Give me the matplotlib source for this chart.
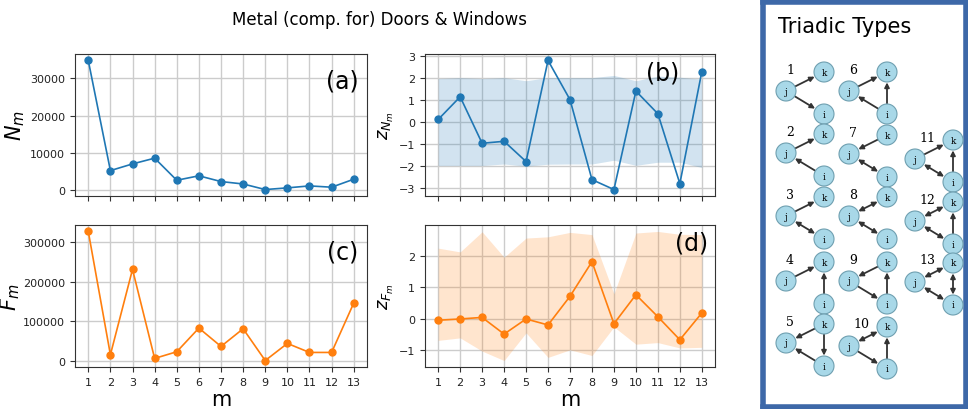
import numpy as np
import matplotlib
matplotlib.use('Agg')
from matplotlib import pyplot as plt
from matplotlib.patches import Circle

# motif index
m = list(range(1, 14))

# (a) observed counts N_m
N_m = [34850, 5200, 7000, 8550, 2600, 3800, 2250, 1600, 100, 550, 1080, 730, 2880]
# (b) z-scores of N_m and the +-2 sigma band from the null model
z_N = [0.1, 1.13, -0.98, -0.89, -1.81, 2.78, 1.0, -2.63, -3.08, 1.39, 0.36, -2.81, 2.27]
z_N_hi = [1.96, 2.0, 1.96, 2.0, 1.86, 2.0, 2.0, 2.0, 2.1, 1.86, 2.07, 2.02, 1.93]
z_N_lo = [-1.99, -1.99, -1.99, -1.92, -2.02, -1.93, -1.92, -1.92, -1.75, -1.98, -1.84, -1.84, -2.08]
# (c) fluxes F_m
F_m = [327000, 15200, 231000, 5900, 22750, 82600, 36200, 80900, 500, 43800, 21000, 21000, 145800]
# (d) z-scores of F_m and band
z_F = [-0.04, 0.0, 0.05, -0.48, 0.0, -0.19, 0.72, 1.82, -0.15, 0.77, 0.07, -0.66, 0.19]
z_F_hi = [2.25, 2.13, 2.77, 1.96, 2.57, 2.61, 2.75, 2.68, 0.8, 2.73, 2.78, 2.69, 2.68]
z_F_lo = [-0.68, -0.6, -1.02, -1.32, -0.44, -1.22, -0.98, -1.16, -0.25, -0.8, -0.75, -0.92, -0.9]

# triadic types: edges as (from, to, both_directions)
triads = {
    1: [('j', 'k', False), ('j', 'i', False)],
    2: [('j', 'k', False), ('i', 'j', False)],
    3: [('j', 'k', False), ('j', 'i', True)],
    4: [('j', 'k', False), ('i', 'k', False)],
    5: [('k', 'j', False), ('k', 'i', False), ('i', 'j', False)],
    6: [('j', 'k', False), ('i', 'j', False), ('i', 'k', False)],
    7: [('k', 'j', False), ('j', 'i', True)],
    8: [('j', 'k', True), ('j', 'i', True)],
    9: [('k', 'j', False), ('j', 'i', False), ('i', 'k', False)],
    10: [('j', 'k', True), ('j', 'i', False), ('i', 'k', False)],
    11: [('j', 'k', False), ('i', 'j', True), ('i', 'k', False)],
    12: [('j', 'k', True), ('j', 'i', True), ('i', 'k', False)],
    13: [('j', 'k', True), ('j', 'i', True), ('i', 'k', True)],
}

blue = '#1f77b4'
orange = '#ff7f0e'

fig = plt.figure(figsize=(9.68, 4.10), dpi=100, facecolor='w')
fig.text(380 / 968, 1 - 20 / 410, 'Metal (comp. for) Doors & Windows',
         ha='center', va='center', fontsize=12)

W, H = 968, 410
def frame(left, top, right, bottom):
    return [left / W, 1 - bottom / H, (right - left) / W, (bottom - top) / H]

ax_a = fig.add_axes(frame(75, 55, 367, 197))
ax_b = fig.add_axes(frame(425, 55, 715, 197))
ax_c = fig.add_axes(frame(75, 226, 367, 368))
ax_d = fig.add_axes(frame(425, 226, 715, 368))

ax_a.plot(m, N_m, 'o-', color=blue, markersize=5, linewidth=1.2)
ax_b.fill_between(m, z_N_lo, z_N_hi, color=blue, alpha=0.2, linewidth=0)
ax_b.plot(m, z_N, 'o-', color=blue, markersize=5, linewidth=1.2)
ax_c.plot(m, F_m, 'o-', color=orange, markersize=5, linewidth=1.2)
ax_d.fill_between(m, z_F_lo, z_F_hi, color=orange, alpha=0.2, linewidth=0)
ax_d.plot(m, z_F, 'o-', color=orange, markersize=5, linewidth=1.2)
ax_b.set_yticks(range(-3, 4))

ax_a.set_ylabel('$N_m$', fontsize=15, labelpad=2)
ax_b.set_ylabel('$z_{N_m}$', fontsize=13, labelpad=2)
ax_c.set_ylabel('$F_m$', fontsize=15, labelpad=1)
ax_d.set_ylabel('$z_{F_m}$', fontsize=13, labelpad=2)

for ax in (ax_a, ax_b, ax_c, ax_d):
    ax.set_xticks(m)
    ax.grid(color='#cccccc', linewidth=1)
    ax.set_axisbelow(True)
    ax.tick_params(labelsize=8, colors='#333333', labelcolor='#222222')
    for s in ax.spines.values():
        s.set_color('#333333')
for ax in (ax_a, ax_b):
    ax.tick_params(labelbottom=False)
for ax in (ax_c, ax_d):
    ax.set_xlabel('m', fontsize=15, labelpad=2)

ax_a.text(0.97, 0.81, '(a)', transform=ax_a.transAxes, ha='right', va='center', fontsize=17)
ax_b.text(0.875, 0.87, '(b)', transform=ax_b.transAxes, ha='right', va='center', fontsize=17)
ax_c.text(0.97, 0.81, '(c)', transform=ax_c.transAxes, ha='right', va='center', fontsize=17)
ax_d.text(0.975, 0.88, '(d)', transform=ax_d.transAxes, ha='right', va='center', fontsize=17)

# triadic types panel, drawn in figure pixel units
ax_t = fig.add_axes(frame(763, 3, 966, 408))
ax_t.set_xlim(763, 966)
ax_t.set_ylim(408, 3)
ax_t.set_xticks([])
ax_t.set_yticks([])
for s in ax_t.spines.values():
    s.set_color('#3d68a8')
    s.set_linewidth(4)
ax_t.text(778, 27, 'Triadic Types', fontsize=15, ha='left', va='center')

# anchor (x of j, y of k) for each type
anchors = {
    1: (786, 73), 2: (786, 135), 3: (786, 198), 4: (786, 263), 5: (786, 325),
    6: (849, 73), 7: (849, 136), 8: (849, 198), 9: (849, 263), 10: (849, 328),
    11: (915, 141), 12: (915, 203), 13: (915, 264),
}
r = 10
for t, (xj, yk) in anchors.items():
    pos = {'k': (xj + 38, yk), 'j': (xj, yk + 19), 'i': (xj + 38, yk + 42)}
    for a, b, both in triads[t]:
        ax_t.annotate('', xy=pos[b], xytext=pos[a],
                      arrowprops=dict(arrowstyle='<|-|>' if both else '-|>',
                                      color='#333333', lw=1.3, mutation_scale=7,
                                      shrinkA=7.5, shrinkB=7.5))
    for name, (x, y) in pos.items():
        ax_t.add_patch(Circle((x, y), r, facecolor='#a8d8e8', edgecolor='#6e9fb0',
                              linewidth=0.8, zorder=3))
        ax_t.text(x, y, name, ha='center', va='center', fontsize=6.5,
                  family='DejaVu Serif', zorder=4)
    ax_t.text(xj + 4, yk - 3, str(t), ha='center' if t < 10 else 'left', va='center',
              fontsize=9, family='DejaVu Serif')

fig.savefig('out.png', dpi=100)
